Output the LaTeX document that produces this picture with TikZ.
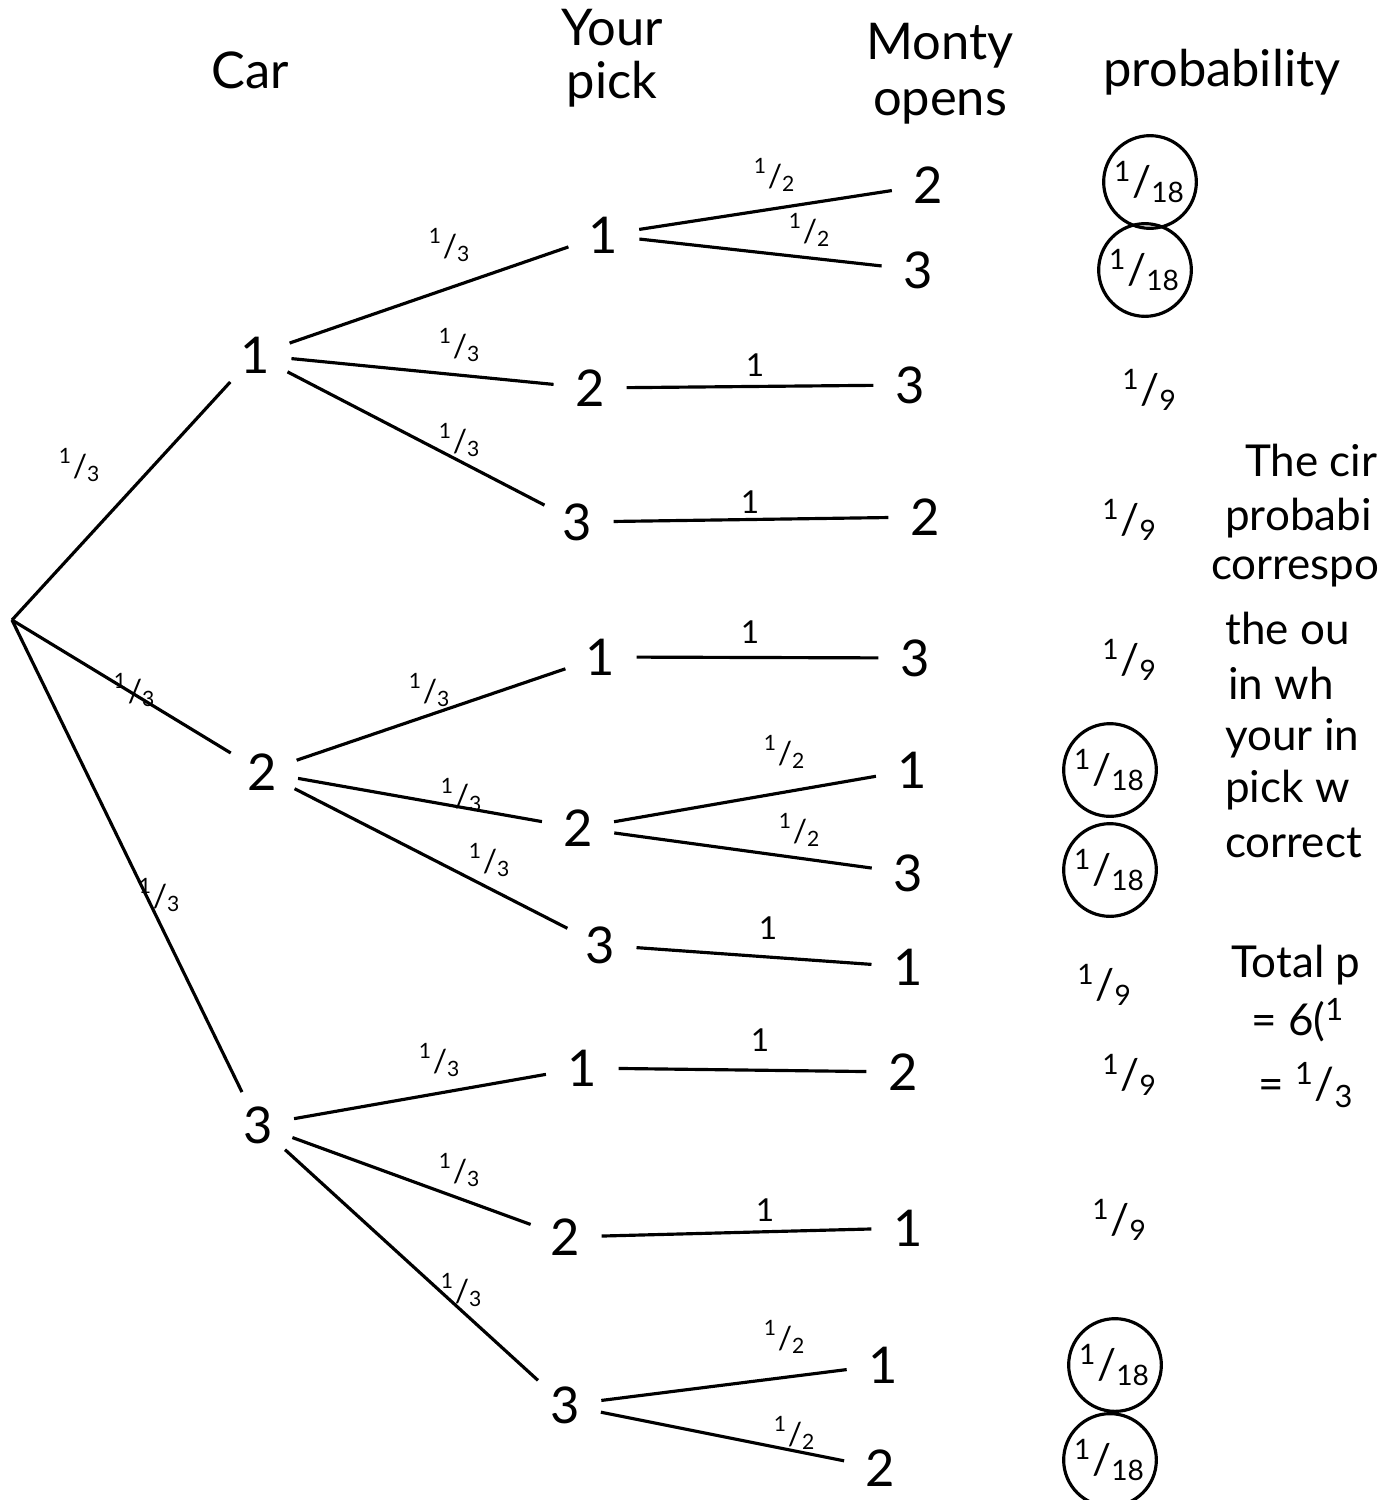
\documentclass[tikz,border=0pt]{standalone}
\usepackage{fontspec}
\setmainfont{Lato}
\usetikzlibrary{positioning}
\newcommand{\fr}[2]{\textsuperscript{#1}/\textsubscript{#2}}

\begin{document}
\begin{tikzpicture}[x=0.01cm, y=-0.01cm,
    line width=0.9pt,
    head/.style={font=\Large, align=center, inner sep=0pt},
    num/.style={circle, minimum size=0.7cm, inner sep=0pt, font=\Large},
    branch/.style={font=\small},
    prob/.style={font=\large},
    circled/.style={prob, draw, circle, inner sep=1pt, minimum size=0.75cm},
    remark/.style={font=\fontsize{12.5}{15}\selectfont, anchor=west}
]
    \useasboundingbox (0,0) rectangle (1383,1500);

    % column heads
    \node[head] (hcar) at (250,70) {Car};
    \node[head] (hpick) at (612,58) {Your\\[-3pt]pick};
    \node[head] (hopen) at (940,74) {Monty\\[-2pt]opens};
    \node[head] (hprob) at (1222,72) {probability};

    % tree
    \coordinate (root) at (12,620);
    \node[num] (car1) at (255,355) {1};
    \node[num] (car2) at (262,772) {2};
    \node[num] (car3) at (258,1125) {3};

    \node[num] (pick11) at (603,235) {1};
    \node[num] (pick12) at (590,388) {2};
    \node[num] (pick13) at (577,522) {3};
    \node[num] (pick21) at (600,657) {1};
    \node[num] (pick22) at (578,828) {2};
    \node[num] (pick23) at (600,945) {3};
    \node[num] (pick31) at (582,1068) {1};
    \node[num] (pick32) at (565,1237) {2};
    \node[num] (pick33) at (565,1405) {3};

    \node[num] (open112) at (928,185) {2};
    \node[num] (open113) at (918,270) {3};
    \node[num] (open123) at (910,385) {3};
    \node[num] (open132) at (925,517) {2};
    \node[num] (open213) at (915,658) {3};
    \node[num] (open221) at (912,770) {1};
    \node[num] (open223) at (908,873) {3};
    \node[num] (open231) at (908,967) {1};
    \node[num] (open312) at (903,1072) {2};
    \node[num] (open321) at (908,1228) {1};
    \node[num] (open331) at (883,1365) {1};
    \node[num] (open332) at (880,1468) {2};

    \draw (root) -- (car1);
    \draw (root) -- (car2);
    \draw (root) -- (car3);
    \foreach \c in {1,2,3}
        \foreach \p in {1,2,3}
            \draw (car\c) -- (pick\c\p);
    \draw (pick11) -- (open112);
    \draw (pick11) -- (open113);
    \draw (pick12) -- (open123);
    \draw (pick13) -- (open132);
    \draw (pick21) -- (open213);
    \draw (pick22) -- (open221);
    \draw (pick22) -- (open223);
    \draw (pick23) -- (open231);
    \draw (pick31) -- (open312);
    \draw (pick32) -- (open321);
    \draw (pick33) -- (open331);
    \draw (pick33) -- (open332);

    % branch labels
    \node[branch] (lcar1) at (80,465) {\fr{1}{3}};
    \node[branch] (lcar2) at (135,690) {\fr{1}{3}};
    \node[branch] (lcar3) at (160,895) {\fr{1}{3}};
    \node[branch] (lpick11) at (450,245) {\fr{1}{3}};
    \node[branch] (lpick12) at (460,345) {\fr{1}{3}};
    \node[branch] (lpick13) at (460,440) {\fr{1}{3}};
    \node[branch] (lpick21) at (430,690) {\fr{1}{3}};
    \node[branch] (lpick22) at (462,795) {\fr{1}{3}};
    \node[branch] (lpick23) at (490,860) {\fr{1}{3}};
    \node[branch] (lpick31) at (440,1060) {\fr{1}{3}};
    \node[branch] (lpick32) at (460,1170) {\fr{1}{3}};
    \node[branch] (lpick33) at (462,1290) {\fr{1}{3}};
    \node[branch] (lopen112) at (775,175) {\fr{1}{2}};
    \node[branch] (lopen113) at (810,230) {\fr{1}{2}};
    \node[branch] (lopen123) at (755,365) {1};
    \node[branch] (lopen132) at (750,502) {1};
    \node[branch] (lopen213) at (750,632) {1};
    \node[branch] (lopen221) at (785,752) {\fr{1}{2}};
    \node[branch] (lopen223) at (800,830) {\fr{1}{2}};
    \node[branch] (lopen231) at (768,928) {1};
    \node[branch] (lopen312) at (760,1040) {1};
    \node[branch] (lopen321) at (765,1210) {1};
    \node[branch] (lopen331) at (785,1337) {\fr{1}{2}};
    \node[branch] (lopen332) at (795,1433) {\fr{1}{2}};

    % probabilities
    \node[circled] (p112) at (1150,182) {\fr{1}{18}};
    \node[circled] (p113) at (1145,270) {\fr{1}{18}};
    \node[prob] (p123) at (1150,390) {\fr{1}{9}};
    \node[prob] (p132) at (1130,520) {\fr{1}{9}};
    \node[prob] (p213) at (1130,660) {\fr{1}{9}};
    \node[circled] (p221) at (1110,770) {\fr{1}{18}};
    \node[circled] (p223) at (1110,870) {\fr{1}{18}};
    \node[prob] (p231) at (1105,985) {\fr{1}{9}};
    \node[prob] (p312) at (1130,1075) {\fr{1}{9}};
    \node[prob] (p321) at (1120,1220) {\fr{1}{9}};
    \node[circled] (p331) at (1115,1365) {\fr{1}{18}};
    \node[circled] (p332) at (1110,1460) {\fr{1}{18}};

    % note, as far as it shows at the right edge
    \node[remark] (note1) at (1232,460) {The cir};
    \node[remark] (note2) at (1212,518) {probabi};
    \node[remark, anchor=east, inner xsep=0pt] (note3) at (1381,572) {correspo};
    \node[remark] (note4) at (1212,628) {the ou};
    \node[remark] (note5) at (1215,683) {in wh};
    \node[remark] (note6) at (1212,738) {your in};
    \node[remark] (note7) at (1212,790) {pick w};
    \node[remark] (note8) at (1212,843) {correct};
    \node[remark] (total1) at (1218,965) {Total p};
    \node[remark] (total2) at (1238,1020) {= 6(\textsuperscript{1}};
    \node[remark] (total3) at (1245,1085) {= \fr{1}{3}};
\end{tikzpicture}
\end{document}
